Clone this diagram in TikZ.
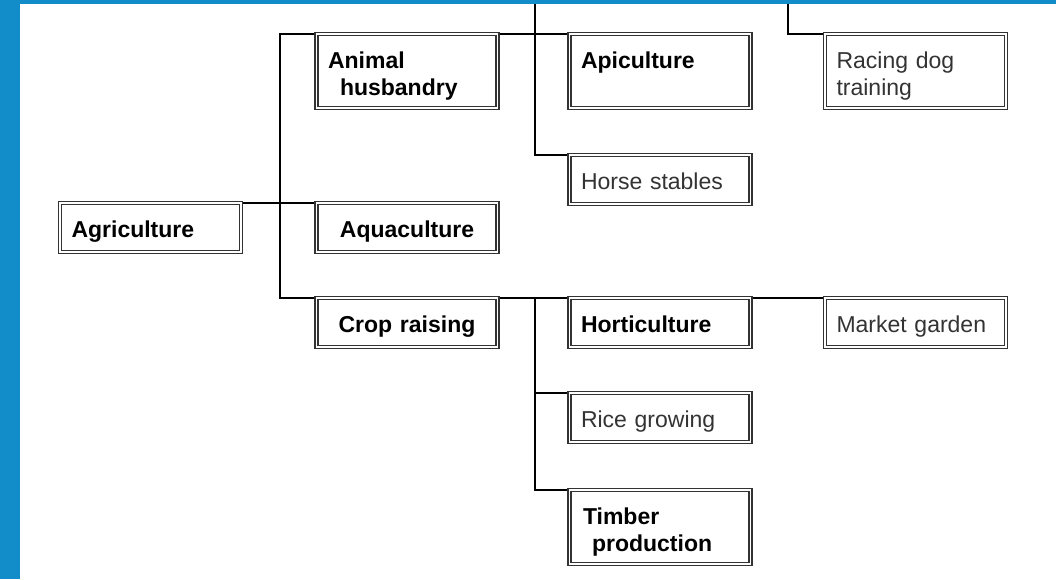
\documentclass[tikz,border=0pt]{standalone}
\usepackage{fontspec}
\setmainfont{Liberation Sans}
\definecolor{frameblue}{RGB}{19,141,201}
\pgfdeclarelayer{background}
\pgfdeclarelayer{foreground}
\pgfsetlayers{background,main,foreground}
\begin{document}
\begin{tikzpicture}[x=1pt,y=-1pt,
  box/.style={draw=black!80, line width=1.6pt, double=white, double distance=1.1pt,
    fill=white, outer sep=0pt, minimum width=181pt, text width=158pt,
    inner xsep=11.5pt, inner ysep=0pt, anchor=north west,
    font=\fontsize{23}{27}\selectfont, align=left},
  sbox/.style={box, minimum height=49pt, text height=20pt, text depth=1pt},
  tbox/.style={box, minimum height=74pt, text height=20pt, text depth=26pt},
  strong/.style={font=\fontsize{23}{27}\selectfont\bfseries, text=black},
  plain/.style={text=black!80},
  conn/.style={draw=black, line width=2.8pt}
]
\useasboundingbox (0,0) rectangle (1056,579);

% junction coordinates
\coordinate (top1) at (535,0);
\coordinate (top2) at (788,0);
\coordinate (ka) at (280,203);
\coordinate (kc) at (535,298);

% boxes
\node[sbox,strong] (agri) at (60,203) {Agriculture};
\node[tbox,strong] (animal) at (316.5,34) {Animal\\\hspace*{12pt}husbandry};
\node[sbox,strong,align=center] (aqua) at (316.5,203) {Aquaculture};
\node[sbox,strong,align=center] (crop) at (316.5,298) {Crop raising};
\node[tbox,strong] (api) at (569.5,34) {Apiculture};
\node[sbox,plain] (horse) at (569.5,155) {Horse stables};
\node[sbox,strong] (hort) at (569.5,298) {Horticulture};
\node[sbox,plain] (rice) at (569.5,393) {Rice growing};
\node[tbox,strong] (timber) at (569.5,490) {\hspace*{2pt}Timber\\\hspace*{11pt}production};
\node[tbox,plain] (racing) at (825,34) {Racing dog\\training};
\node[sbox,plain] (market) at (825,298) {Market garden};

% connectors, behind the boxes
\begin{pgfonlayer}{background}
\draw[conn] (agri.north east) -- (aqua.north west);
\draw[conn] (ka) |- (animal.north west);
\draw[conn] (ka) |- (crop.north west);
\draw[conn] (animal.north east) -- (api.north west);
\draw[conn] (top1) |- (horse.north west);
\draw[conn] (crop.north east) -- (hort.north west);
\draw[conn] (kc) |- (rice.north west);
\draw[conn] (kc) |- (timber.north west);
\draw[conn] (hort.north east) -- (market.north west);
\draw[conn] (top2) |- (racing.north west);
\end{pgfonlayer}

% frame
\begin{pgfonlayer}{foreground}
\fill[frameblue] (0,0) rectangle (20,579);
\fill[frameblue] (0,0) rectangle (1056,4);
\end{pgfonlayer}
\end{tikzpicture}
\end{document}
